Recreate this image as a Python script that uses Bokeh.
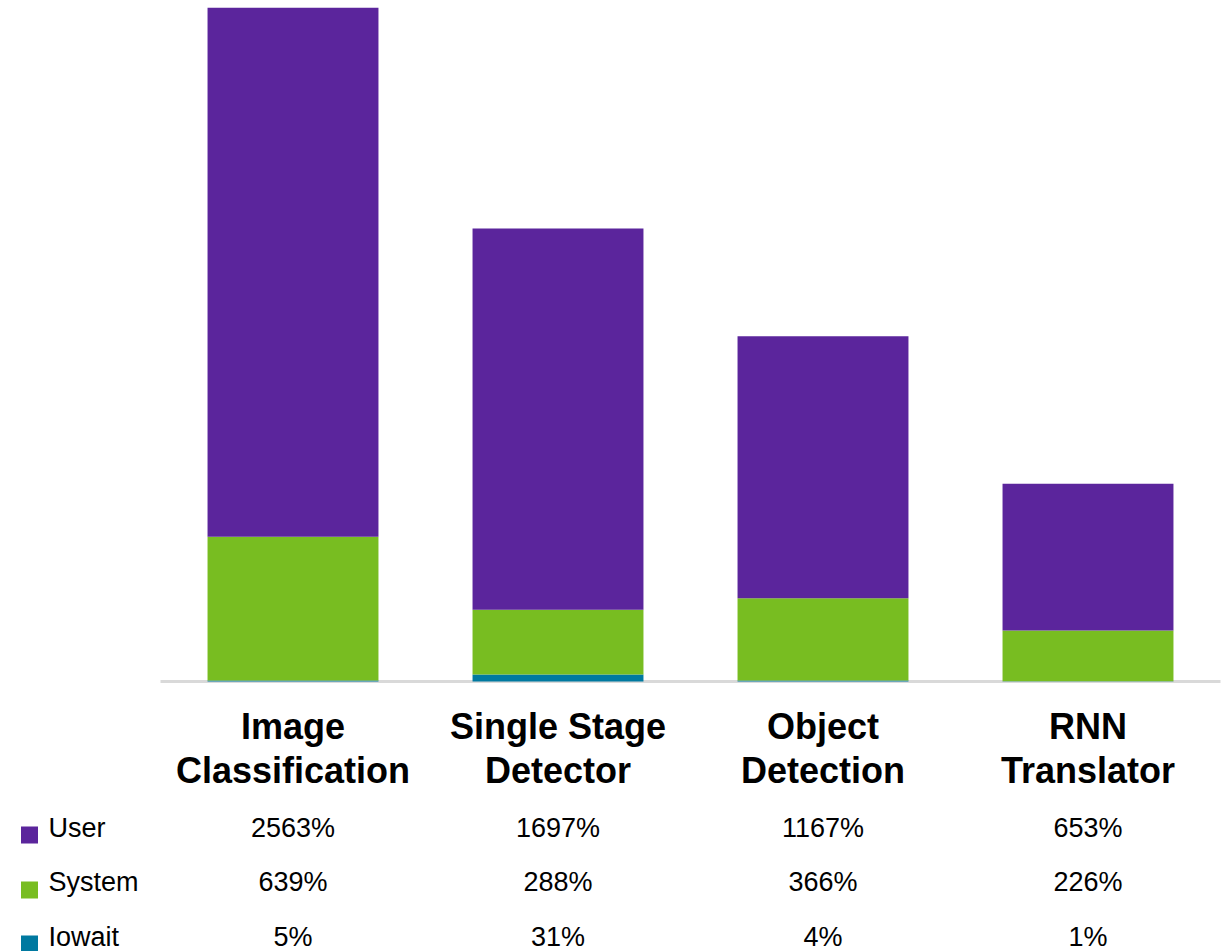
from bokeh.plotting import figure
from bokeh.models import ColumnDataSource, Range1d
from bokeh.embed import file_html
from bokeh.resources import INLINE
from bokeh.core.properties import value

# ---- data ----
categories = ["Image\nClassification", "Single Stage\nDetector", "Object\nDetection", "RNN\nTranslator"]
series_names = ["User", "System", "Iowait"]
user = [2563, 1697, 1167, 653]
system = [639, 288, 366, 226]
iowait = [5, 31, 4, 1]

colors = {"User": "#5B259C", "System": "#78BD21", "Iowait": "#0079A0"}

W, H = 1228, 951
TOP = 7            # frame top in px
BASE = 681         # baseline pixel
LEFT = 160         # px of category axis start
STEP = 265         # px per category
YMAX = 3000
s = (BASE - TOP) / YMAX          # px per unit
ystart = YMAX - (H - TOP) / s

def py(pix):
    return (BASE - pix) / s

def px(pix):
    return (pix - LEFT) / STEP

p = figure(width=W, height=H, output_backend="svg", toolbar_location=None,
           x_range=Range1d(px(0), px(W)), y_range=Range1d(ystart, YMAX),
           min_border_left=0, min_border_right=0, min_border_top=TOP, min_border_bottom=0)
p.axis.visible = False
p.grid.visible = False
p.outline_line_color = None
p.background_fill_color = "white"
p.border_fill_color = "white"

xs = [i + 0.5 for i in range(len(categories))]
src = ColumnDataSource(dict(x=xs, Iowait=iowait, System=system, User=user))

# axis baseline
p.segment(x0=[0], y0=[0], x1=[len(categories)], y1=[0], line_color="#D9D9D9", line_width=3)

p.vbar_stack(["Iowait", "System", "User"], x="x", width=0.645, source=src,
             color=[colors["Iowait"], colors["System"], colors["User"]], line_width=0)

font = value("Liberation Sans")

# category labels (two lines)
line1 = [c.split("\n")[0] for c in categories]
line2 = [c.split("\n")[1] for c in categories]
p.text(x=xs, y=[py(726)] * len(xs), text=line1, text_font=font, text_font_style="bold",
       text_font_size="36px", text_align="center", text_baseline="alphabetic", text_color="black")
p.text(x=xs, y=[py(770)] * len(xs), text=line2, text_font=font, text_font_style="bold",
       text_font_size="36px", text_align="center", text_baseline="alphabetic", text_color="black")

# data table rows
row_text_y = [827, 881.5, 936]
row_square_y = [834.5, 889.5, 943.5]
row_vals = {"User": user, "System": system, "Iowait": iowait}
for name, ty, sy in zip(series_names, row_text_y, row_square_y):
    p.scatter(x=[px(29)], y=[py(sy)], marker="square", size=17,
              fill_color=colors[name], line_color=None)
    p.text(x=[px(48)], y=[py(ty)], text=[name], text_font=font, text_font_size="27px",
           text_align="left", text_baseline="alphabetic", text_color="black")
    p.text(x=xs, y=[py(ty)] * len(xs), text=[f"{v}%" for v in row_vals[name]], text_font=font,
           text_font_size="27px", text_align="center", text_baseline="alphabetic", text_color="black")

open("out.html", "w").write(file_html(p, INLINE))
